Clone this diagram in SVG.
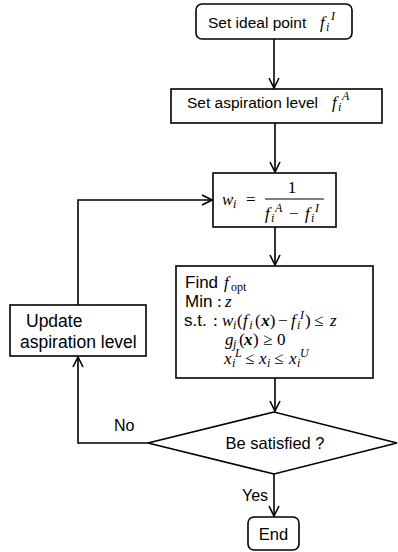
<svg xmlns="http://www.w3.org/2000/svg" width="398" height="552" viewBox="0 0 398 552">
<defs>
<style>
.box{fill:#fff;stroke:#000;stroke-width:1.6}
.ln{fill:none;stroke:#000;stroke-width:1.6}
.t{font-family:"Liberation Sans",Arial,sans-serif;font-size:15.5px;fill:#000}
.m{font-family:"Liberation Serif","Times New Roman",serif;font-size:17px;fill:#000}
.s{font-size:12px}
.i{font-style:italic}
.b{font-weight:bold}
</style>
<marker id="arr" viewBox="0 0 12 12" refX="11" refY="6" markerWidth="12" markerHeight="12" markerUnits="userSpaceOnUse" orient="auto">
<path d="M1,1 L11,6 L1,11" fill="none" stroke="#000" stroke-width="1.6"/>
</marker>
</defs>
<rect width="398" height="552" fill="#fff"/>
<g id="connectors">
<path class="ln" d="M274,39 L274,88" marker-end="url(#arr)"/>
<path class="ln" d="M275,123 L275,172" marker-end="url(#arr)"/>
<path class="ln" d="M275,227 L275,265" marker-end="url(#arr)"/>
<path class="ln" d="M275,378 L275,411" marker-end="url(#arr)"/>
<path class="ln" d="M274,474 L274,516" marker-end="url(#arr)"/>
<path class="ln" d="M148,443 L78,443 L78,357" marker-end="url(#arr)"/>
<path class="ln" d="M78,305 L78,200 L212,200" marker-end="url(#arr)"/>
<text class="t" x="114" y="431" style="font-size:16px">No</text>
<text class="t" x="242" y="501" style="font-size:16px">Yes</text>
</g>
<g id="n1">
<rect class="box" x="196" y="4" width="156" height="35" rx="6"/>
<text class="t" x="208" y="28">Set ideal point</text>
<text class="m i" x="320" y="28">f</text>
<text class="m i s" x="326" y="31">i</text>
<text class="m i s" x="331" y="20">I</text>
</g>
<g id="n2">
<rect class="box" x="171" y="89" width="211" height="34"/>
<text class="t" x="187" y="108">Set aspiration level</text>
<text class="m i" x="332" y="108">f</text>
<text class="m i s" x="338" y="111">i</text>
<text class="m i s" x="342" y="100">A</text>
</g>
<g id="n3">
<rect class="box" x="213" y="173" width="123" height="54"/>
<text class="m i" x="222" y="205">w</text>
<text class="m i s" x="233" y="208">i</text>
<text class="m" x="246" y="205">=</text>
<text class="m" x="292" y="193" text-anchor="middle">1</text>
<line x1="265" y1="199" x2="324" y2="199" stroke="#000" stroke-width="1.1"/>
<text class="m i" x="265" y="219">f</text>
<text class="m i s" x="271" y="222">i</text>
<text class="m i s" x="275" y="212">A</text>
<text class="m" x="289" y="219">−</text>
<text class="m i" x="305" y="219">f</text>
<text class="m i s" x="311" y="222">i</text>
<text class="m i s" x="315" y="212">I</text>
</g>
<g id="n4">
<rect class="box" x="176" y="266" width="197" height="112"/>
<text class="t" x="185" y="288" style="font-size:17px">Find</text>
<text class="m i" x="224" y="288">f</text>
<text class="m s" x="231" y="291">opt</text>
<text class="t" x="185" y="307" style="font-size:17px">Min</text>
<text class="m" x="217" y="307">:</text>
<text class="m i" x="225" y="307">z</text>
<text class="t" x="184" y="326" style="font-size:17px">s.t.</text>
<text class="m" x="213" y="326">:</text>
<text class="m i" x="222" y="326">w</text>
<text class="m i s" x="233" y="329">i</text>
<text class="m" x="237" y="326">(</text>
<text class="m" x="243" y="326"><tspan class="i">f</tspan><tspan class="i s" dx="1.5" dy="3">i</tspan><tspan dx="2.5" dy="-3">(</tspan><tspan class="i b" dx="0.5">x</tspan>)</text>
<text class="m" x="278" y="326">−</text>
<text class="m i" x="291" y="326">f</text>
<text class="m i s" x="297" y="329">i</text>
<text class="m i s" x="300" y="319">I</text>
<text class="m" x="305" y="326">)</text>
<text class="m" x="314" y="326">≤</text>
<text class="m i" x="330" y="326">z</text>
<text class="m i" x="225" y="345">g</text>
<text class="m i s" x="233" y="348">j</text>
<text class="m" x="239" y="345">(</text>
<text class="m i b" x="244" y="345">x</text>
<text class="m" x="253" y="345">)</text>
<text class="m" x="263" y="345">≥</text>
<text class="m" x="277" y="345">0</text>
<text class="m i" x="224" y="364">x</text>
<text class="m i s" x="232" y="367">i</text>
<text class="m i s" x="235" y="357">L</text>
<text class="m" x="245" y="364">≤</text>
<text class="m i" x="259" y="364">x</text>
<text class="m i s" x="267" y="367">i</text>
<text class="m" x="274" y="364">≤</text>
<text class="m i" x="289" y="364">x</text>
<text class="m i s" x="297" y="367">i</text>
<text class="m i s" x="300" y="357">U</text>
</g>
<g id="n5">
<rect class="box" x="10" y="305" width="136" height="51"/>
<text class="t" x="26" y="327" style="font-size:17.5px">Update</text>
<text class="t" x="20" y="348" style="font-size:17.5px">aspiration level</text>
</g>
<g id="n6">
<polygon class="box" points="148,443 274,412 397,443 274,474"/>
<text class="t" x="275" y="449" text-anchor="middle" style="font-size:16.5px">Be satisfied ?</text>
</g>
<g id="n7">
<rect class="box" x="248" y="517" width="51" height="33" rx="6"/>
<text class="t" x="273.5" y="540" text-anchor="middle" style="font-size:16.5px">End</text>
</g>
</svg>
